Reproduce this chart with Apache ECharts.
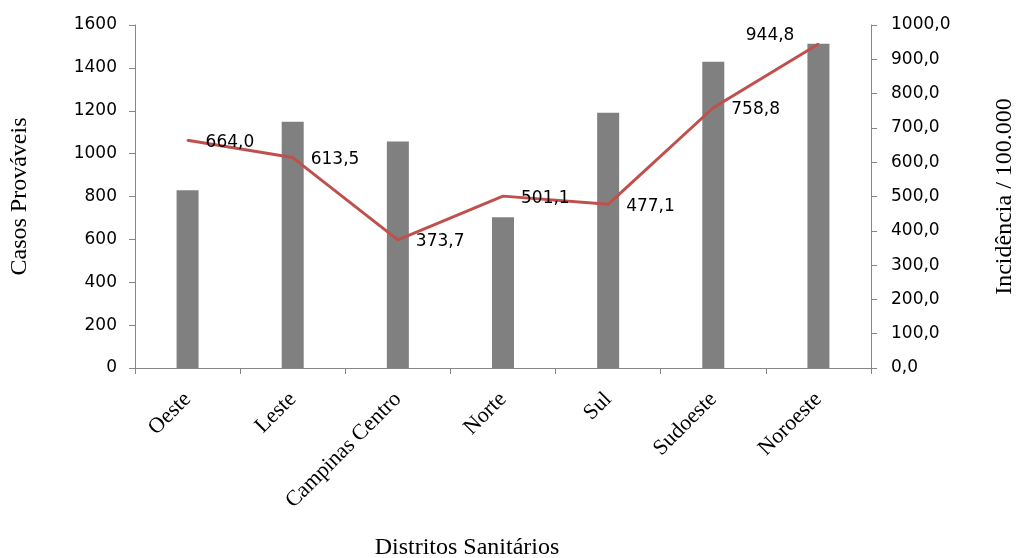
<!DOCTYPE html>
<html><head><meta charset="utf-8">
<script src="https://cdn.jsdelivr.net/npm/echarts@6/dist/echarts.min.js"></script>
<style>html,body{margin:0;padding:0;background:#fff;overflow:hidden}#c{width:1016px;height:558px}</style>
</head><body><div id="c"></div>
<script>
const categories = ['Oeste','Leste','Campinas Centro','Norte','Sul','Sudoeste','Noroeste'];
const casos = [829, 1149, 1057, 703, 1191, 1429, 1513];
const incidencia = [664.0, 613.5, 373.7, 501.1, 477.1, 758.8, 944.8];
const fmt = v => Number(v).toFixed(1).replace('.', ',');
const chart = echarts.init(document.getElementById('c'));
const axisLine = {show:true, lineStyle:{color:'#868686', width:1}};
const tick = {show:true, length:6, lineStyle:{color:'#868686'}};
const tickFont = {color:'#000', fontSize:17, fontFamily:'DejaVu Sans'};
const titleFont = {color:'#000', fontSize:24, fontFamily:'Liberation Serif'};
chart.setOption({
  animation:false,
  grid:{left:135, right:145, top:25, bottom:190, outerBoundsMode:'none', containLabel:false},
  xAxis:{type:'category', data:categories, boundaryGap:true,
    axisLine:axisLine, axisTick:tick,
    axisLabel:{rotate:45, margin:28, color:'#000', fontSize:22, fontFamily:'Liberation Serif'},
    name:'Distritos Sanitários', nameLocation:'middle', nameGap:168,
    nameTextStyle:Object.assign({padding:[0,72,0,0]}, titleFont)},
  yAxis:[
    {type:'value', min:0, max:1600, interval:200, splitLine:{show:false},
     axisLine:axisLine, axisTick:tick, axisLabel:Object.assign({margin:18, formatter:v=>String(v)}, tickFont),
     name:'Casos Prováveis', nameLocation:'middle', nameGap:103, nameRotate:90,
     nameTextStyle:titleFont},
    {type:'value', min:0, max:1000, interval:100, position:'right', splitLine:{show:false},
     axisLine:axisLine, axisTick:tick, axisLabel:Object.assign({margin:20, formatter:fmt}, tickFont),
     name:'Incidência / 100.000', nameLocation:'middle', nameGap:122, nameRotate:90,
     nameTextStyle:titleFont}
  ],
  series:[
    {type:'bar', data:casos, yAxisIndex:0, barWidth:22, itemStyle:{color:'#808080'}},
    {type:'line', data:incidencia.map((v,i)=>{
        const o = {value:v};
        if (i===6) o.label = {position:'left', offset:[-18,-8]};
        return o;
      }), yAxisIndex:1, symbol:'circle', symbolSize:2, showSymbol:true,
     lineStyle:{color:'#c0504d', width:3}, itemStyle:{color:'#c0504d'},
     label:{show:true, position:'right', offset:[12,2], formatter:p=>fmt(p.value), color:'#000', fontSize:17, fontFamily:'DejaVu Sans'}}
  ]
});
</script></body></html>
